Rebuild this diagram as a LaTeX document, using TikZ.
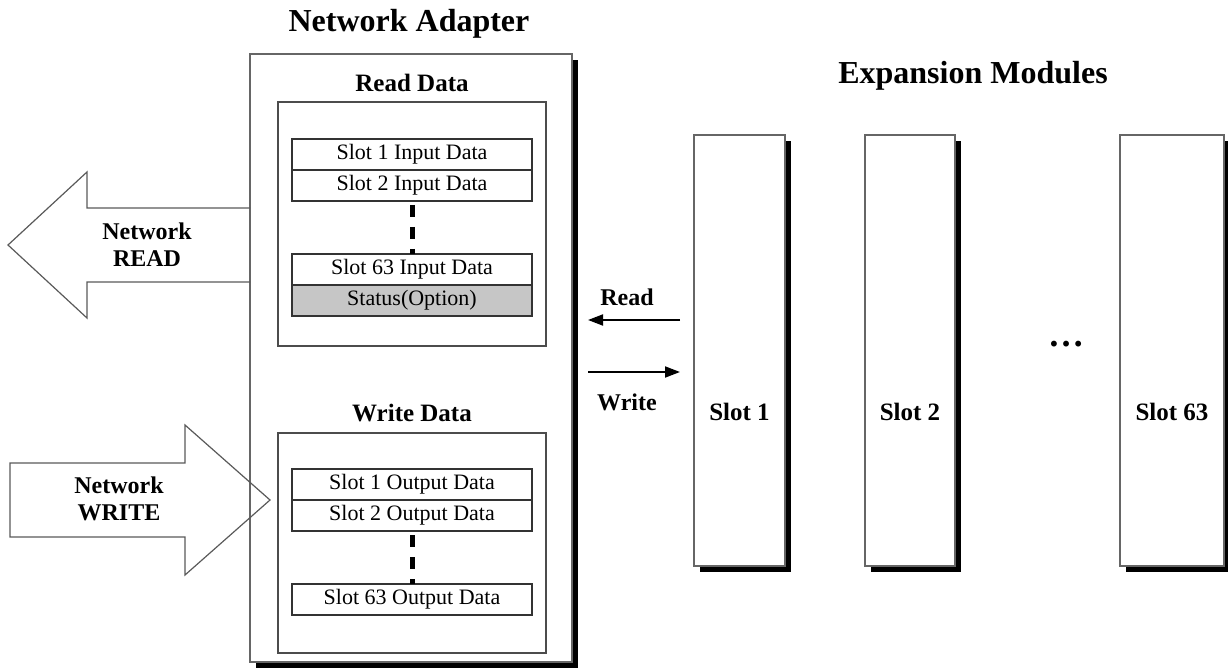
\documentclass[tikz,border=0pt]{standalone}
\usepackage{fontspec}
\setmainfont{Liberation Serif}
\usetikzlibrary{arrows.meta,shadows}
\begin{document}
\begin{tikzpicture}[x=1pt,y=-1pt,
  shadowbox/.style={draw=black!60, line width=1.2pt, fill=white, inner sep=0pt, outer sep=0pt,
    drop shadow={shadow xshift=6pt, shadow yshift=-6pt, opacity=1, fill=black}},
  databox/.style={draw=black!70, line width=1.2pt, fill=white, inner sep=0pt, outer sep=0pt},
  rowbox/.style={draw=black!80, line width=1.3pt, fill=white, minimum width=240pt, minimum height=31pt,
    inner sep=0pt, outer sep=0pt, font=\fontsize{22}{22}\selectfont},
  bigtitle/.style={font=\bfseries\fontsize{32}{32}\selectfont, inner sep=0pt},
  subtitle/.style={font=\bfseries\fontsize{25}{25}\selectfont, inner sep=0pt},
  lab/.style={font=\bfseries\fontsize{24}{27}\selectfont, inner sep=0pt, align=center},
  bigarrow/.style={draw=black!65, line width=1.2pt, line join=miter},
  conn/.style={line width=1.8pt, -{Triangle[length=15pt,width=11pt]}},
  dots/.style={line width=5pt, dash pattern=on 12pt off 10pt}
]
\useasboundingbox (0,0) rectangle (1228,668);

% titles
\node[bigtitle] (tna) at (409,24) {Network Adapter};
\node[bigtitle] (tem) at (973,76) {Expansion Modules};

% network adapter outer box
\node[shadowbox, minimum width=322pt, minimum height=608pt] (adapter) at (411,358) {};

% Network READ arrow
\draw[bigarrow] (250,208) -- (87,208) -- (87,172) -- (8,245) -- (87,318) -- (87,282) -- (250,282);
\node[lab] (nread) at (147,245) {Network\\READ};

% Network WRITE arrow
\draw[bigarrow] (10,463) -- (185,463) -- (185,425) -- (270,500) -- (185,575) -- (185,537) -- (10,537) -- cycle;
\node[lab] (nwrite) at (119,499) {Network\\WRITE};

% Read data
\node[subtitle] (trd) at (412,83) {Read Data};
\node[databox, minimum width=268pt, minimum height=244pt] (readbox) at (412,224) {};
\node[rowbox] (r1) at (412,154.5) {Slot 1 Input Data};
\node[rowbox] (r2) at (412,185.5) {Slot 2 Input Data};
\node[rowbox] (r63) at (412,269.5) {Slot 63 Input Data};
\node[rowbox, fill=gray!45] (rs) at (412,300.5) {Status(Option)};
\draw[dots] ([yshift=-4pt]r2.south) -- (r63.north);

% Write data
\node[subtitle] (twd) at (412,413) {Write Data};
\node[databox, minimum width=268pt, minimum height=220pt] (writebox) at (412,543) {};
\node[rowbox] (w1) at (412,484.5) {Slot 1 Output Data};
\node[rowbox] (w2) at (412,515.5) {Slot 2 Output Data};
\node[rowbox] (w63) at (412,599.5) {Slot 63 Output Data};
\draw[dots] ([yshift=-4pt]w2.south) -- (w63.north);

% expansion slots
\node[shadowbox, minimum width=91pt, minimum height=431pt] (slot1) at (739.5,350.5) {};
\node[shadowbox, minimum width=90pt, minimum height=431pt] (slot2) at (910,350.5) {};
\node[shadowbox, minimum width=104pt, minimum height=431pt] (slot63) at (1172,350.5) {};
\node[subtitle] (s1t) at (739.5,412) {Slot 1};
\node[subtitle] (s2t) at (910,412) {Slot 2};
\node[subtitle] (s63t) at (1172,412) {Slot 63};
\node[font=\bfseries\fontsize{36}{36}\selectfont, inner sep=0pt] (ell) at (1066,344) {…};

% read / write connectors
\coordinate (rdA) at (680,320);
\coordinate (rdB) at (588,320);
\coordinate (wrA) at (588,372);
\coordinate (wrB) at (680,372);
\draw[conn] (rdA) -- (rdB);
\draw[conn] (wrA) -- (wrB);
\node[lab] (lrd) at (627,297) {Read};
\node[lab] (lwr) at (627,402) {Write};
\end{tikzpicture}
\end{document}
